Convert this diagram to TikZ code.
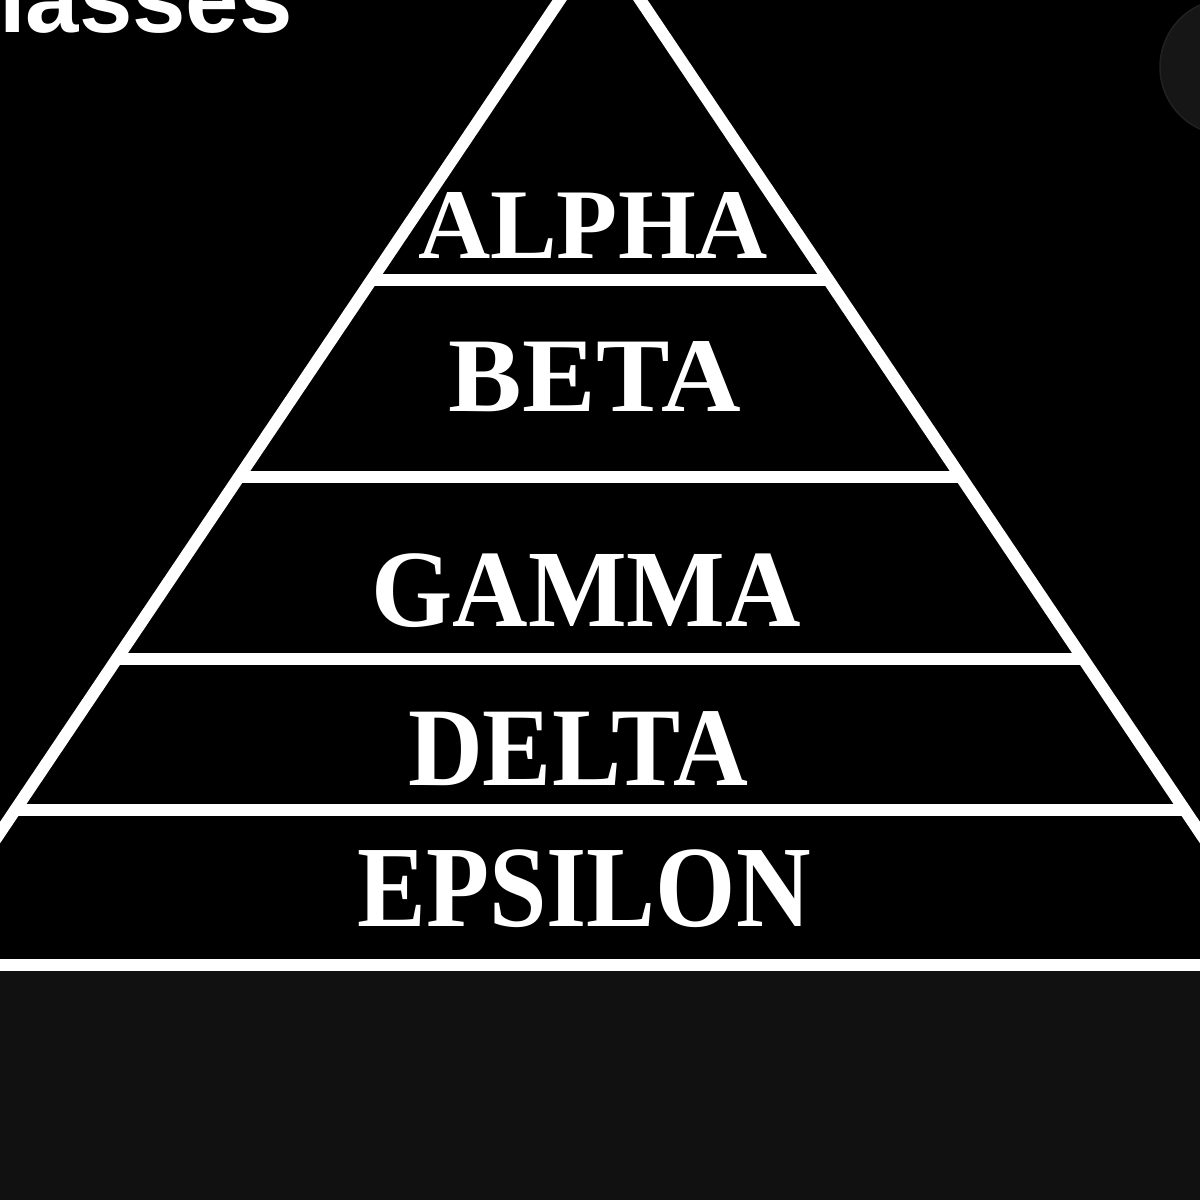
\documentclass[tikz,border=0pt]{standalone}
\usepackage{fontspec}
\newfontfamily\castefont{Liberation Serif}
\newfontfamily\headfont{Liberation Sans}
\tikzset{
  castelabel/.style={inner sep=0pt, text=white}
}
\newlength{\du}
\setlength{\du}{15\unitlength}

\begin{document}
\begin{tikzpicture}
\pgftransformxscale{1.000000}
\pgftransformyscale{-1.000000}
\useasboundingbox (0\du,0\du) rectangle (80\du,80\du);
\clip (0\du,0\du) rectangle (80\du,80\du);
% background
\definecolor{dialinecolor}{rgb}{0.000000, 0.000000, 0.000000}
\pgfsetfillcolor{dialinecolor}
\fill (0\du,0\du)--(80\du,0\du)--(80\du,64.733333\du)--(0\du,64.733333\du)--cycle;
\definecolor{dialinecolor}{rgb}{0.067000, 0.067000, 0.067000}
\pgfsetfillcolor{dialinecolor}
\fill (0\du,64.733333\du)--(80\du,64.733333\du)--(80\du,80\du)--(0\du,80\du)--cycle;
% round button, top right
\pgfsetlinewidth{0.100000\du}
\definecolor{dialinecolor}{rgb}{0.085000, 0.085000, 0.085000}
\pgfsetfillcolor{dialinecolor}
\definecolor{dialinecolor}{rgb}{0.130000, 0.130000, 0.130000}
\pgfsetstrokecolor{dialinecolor}
\pgfpathellipse{\pgfpoint{81.866667\du}{4.466667\du}}{\pgfpoint{4.533333\du}{0\du}}{\pgfpoint{0\du}{4.533333\du}}
\pgfusepath{fill,stroke}
% pyramid
\pgfsetlinewidth{0.800000\du}
\pgfsetdash{}{0pt}
\pgfsetmiterjoin
\pgfsetbuttcap
\definecolor{dialinecolor}{rgb}{1.000000, 1.000000, 1.000000}
\pgfsetstrokecolor{dialinecolor}
\draw (-5.933333\du,64.333333\du)--(40.000000\du,-4.000000\du)--(85.933333\du,64.333333\du);
\draw (24.800000\du,18.666667\du)--(55.200000\du,18.666667\du);
\draw (15.933333\du,31.800000\du)--(64.066667\du,31.800000\du);
\draw (7.800000\du,43.933333\du)--(72.200000\du,43.933333\du);
\draw (1.000000\du,54.000000\du)--(79.000000\du,54.000000\du);
\draw (-1.000000\du,64.333333\du)--(81.000000\du,64.333333\du);
% setfont left to latex
\node[castelabel, font=\castefont\bfseries\fontsize{100}{100}\selectfont] (alpha) at (39.533333\du,15.000000\du){ALPHA};
\node[castelabel, xscale=1.04, font=\castefont\bfseries\fontsize{106}{106}\selectfont] (beta) at (39.666667\du,25.133333\du){BETA};
\node[castelabel, xscale=0.95, font=\castefont\bfseries\fontsize{110}{110}\selectfont] (gamma) at (39.066667\du,39.400000\du){GAMMA};
\node[castelabel, xscale=0.925, font=\castefont\bfseries\fontsize{112}{112}\selectfont] (delta) at (38.533333\du,49.933333\du){DELTA};
\node[castelabel, xscale=0.89, font=\castefont\bfseries\fontsize{116}{116}\selectfont] (epsilon) at (38.933333\du,59.266667\du){EPSILON};
% heading, cut by the frame
\node[anchor=base west, inner sep=0pt, text=white, font=\headfont\bfseries\fontsize{96}{96}\selectfont] (classes) at (-0.466667\du,2.133333\du){lasses};
\end{tikzpicture}
\end{document}
